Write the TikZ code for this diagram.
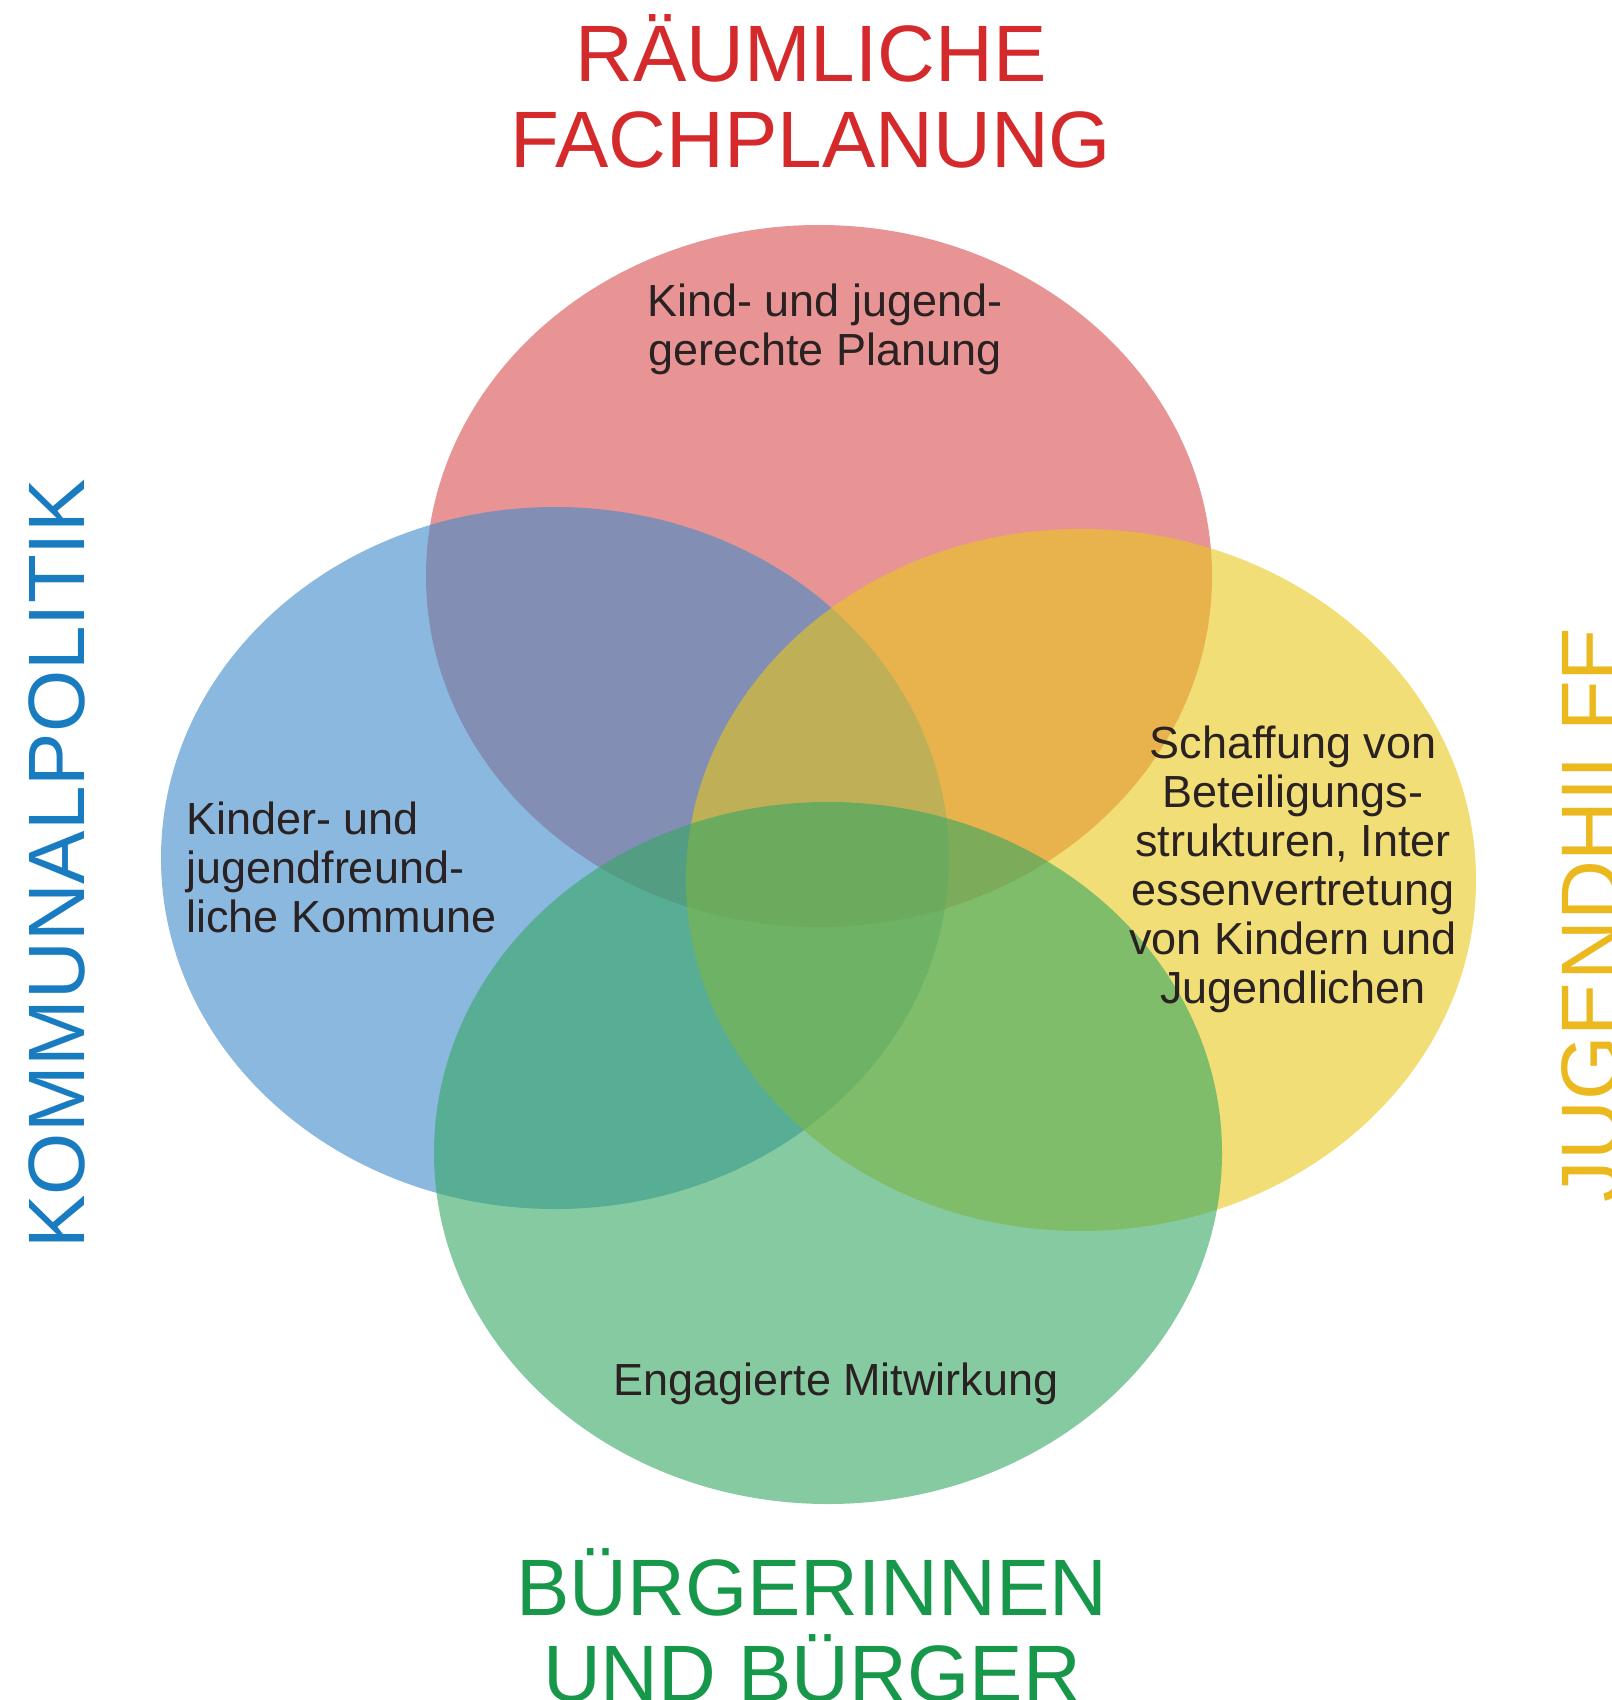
\documentclass[tikz,border=0pt]{standalone}
\usepackage{fontspec}
\setmainfont{Liberation Sans}
\definecolor{redc}{HTML}{DA4E4E}
\definecolor{bluec}{HTML}{3F8ACA}
\definecolor{yellowc}{HTML}{E9C81C}
\definecolor{greenc}{HTML}{35A862}
\definecolor{redt}{HTML}{D42A2C}
\definecolor{bluet}{HTML}{1A7CC0}
\definecolor{yellowt}{HTML}{EBB81E}
\definecolor{greent}{HTML}{17974A}
\definecolor{ink}{HTML}{2A2222}
\begin{document}
\begin{tikzpicture}[x=0.5pt,y=-0.5pt,
  blob/.style={fill opacity=0.6},
  title/.style={font=\fontsize{40}{43}\selectfont, align=center, anchor=base, inner sep=0pt},
  inner/.style={font=\fontsize{22.5}{24.5}\selectfont, text=ink, anchor=base, inner sep=0pt}]
\path[use as bounding box, fill=white] (0,0) rectangle (1611,1700);
\clip (0,0) rectangle (1611,1700);
\fill[redc, blob] (819,576) ellipse [x radius=393, y radius=351];
\fill[bluec, blob] (555,858) ellipse [x radius=394, y radius=351];
\fill[yellowc, blob] (1081,880) ellipse [x radius=395, y radius=351];
\fill[greenc, blob] (828,1153) ellipse [x radius=394, y radius=351];
% titles (anchor base = baseline of last line)
\node[title, text=redt] (t1) at (811,168) {RÄUMLICHE\\FACHPLANUNG};
\node[title, text=greent] (t2) at (812,1701) {BÜRGERINNEN\\UND BÜRGER};
\node[title, text=bluet, rotate=90] (t3) at (84,864) {KOMMUNALPOLITIK};
\node[title, text=yellowt, rotate=90, font=\fontsize{41.5}{44}\selectfont] (t4) at (1619,914) {JUGENDHILFE};
% inner texts
\node[inner, align=center] (a) at (825,366) {Kind- und jugend-\\gerechte Planung};
\node[inner, align=left, anchor=base west] (b) at (186,932) {Kinder- und\\jugendfreund-\\liche Kommune};
\node[inner, align=center] (c) at (1293,1003) {Schaffung von\\Beteiligungs-\\strukturen, Inter\\essenvertretung\\von Kindern und\\Jugendlichen};
\node[inner] (d) at (836,1395) {Engagierte Mitwirkung};
\end{tikzpicture}
\end{document}
